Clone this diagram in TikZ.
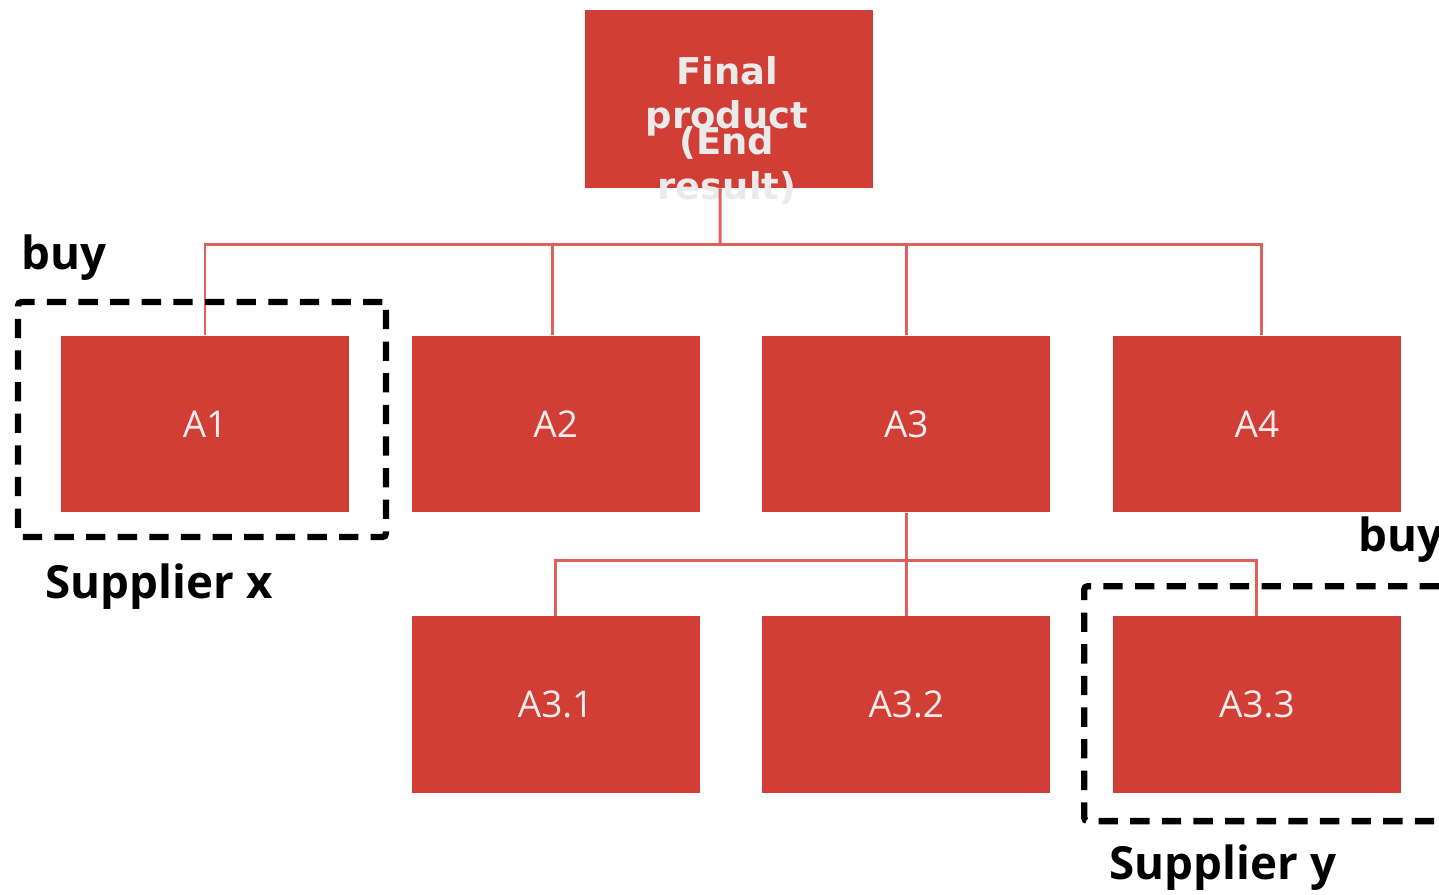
\documentclass[tikz,border=0pt]{standalone}
\usepackage{fontspec}
\setmainfont{Open Sans}
\newfontfamily\boxfont{DejaVu Sans}
\usepackage{tikz}
\usetikzlibrary{positioning}
\definecolor{boxred}{RGB}{208,62,54}
\definecolor{linkred}{RGB}{222,96,90}
\definecolor{labelwhite}{RGB}{246,236,236}
\definecolor{titlegrey}{RGB}{234,234,234}

\begin{document}
\begin{tikzpicture}[x=0.02cm, y=-0.02cm, node distance=1.24cm,
    part/.style={fill=boxred, minimum width=5.76cm, minimum height=3.54cm, inner sep=0pt,
        text=labelwhite, font=\fontsize{21}{25}\selectfont},
    link/.style={draw=linkred, line width=1.7pt},
    supbox/.style={draw=black, line width=3.6pt, dash pattern=on 11pt off 7pt, rounded corners=2pt,
        inner sep=0pt},
    tag/.style={font=\fontsize{26}{30}\selectfont\bfseries, inner sep=0pt}]
    \clip (0,0) rectangle (1439,894);
    \node[part, minimum height=3.56cm] (final) at (729,99) {};
    \node[text=titlegrey, align=center, font=\boxfont\bfseries\fontsize{21}{25.5}\selectfont] (finaltxt) at (727,130) {Final\\product\\[-11pt](End\\result)};
    \node[part] (a1) at (205,424) {A1};
    \node[part, right=of a1] (a2) {A2};
    \node[part, right=of a2] (a3) {A3};
    \node[part, right=of a3] (a4) {A4};
    \node[part, below=2.06cm of a2] (a31) {A3.1};
    \node[part, below=2.06cm of a3] (a32) {A3.2};
    \node[part, below=2.06cm of a4] (a33) {A3.3};

    % tree links
    \coordinate (bus) at (720,244);
    \coordinate (bus2) at (903,560);
    \draw[link] ([xshift=-0.18cm]final.south) -- (bus);
    \draw[link] (a1.north) |- (bus) -| ([xshift=0.1cm]a4.north);
    \draw[link] ([xshift=-0.06cm]a2.north) -- ([xshift=-0.06cm]a2.north |- bus);
    \draw[link] (a3.north) -- (a3.north |- bus);
    \draw[link] (a31.north) |- (bus2) -| (a33.north);
    \draw[link] (a3.south) -- (a32.north);

    % make or buy
    \node[supbox, minimum width=7.36cm, minimum height=4.7cm] (supx) at (202,419.5) {};
    \node[supbox, minimum width=7.8cm, minimum height=4.7cm, anchor=north west] (supy) at (1081,583) {};
    \node[tag] (buyx) at (64,258) {buy};
    \node[tag] (suppx) at (159,587) {Supplier x};
    \node[tag, anchor=west] (buyy) at (1358,540) {buy};
    \node[tag] (suppy) at (1223,868) {Supplier y};
\end{tikzpicture}
\end{document}
